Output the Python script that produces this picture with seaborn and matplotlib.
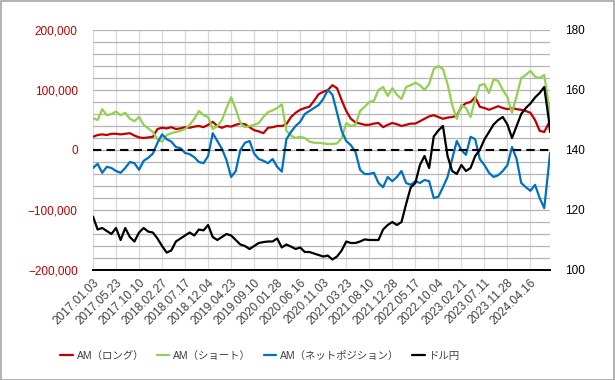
import matplotlib
matplotlib.use("Agg")
import matplotlib.pyplot as plt
import matplotlib.ticker as mticker
from matplotlib.patches import Rectangle
import numpy as np
import pandas as pd
import seaborn as sns

# weekly COT data sampled every 4 weeks, last point 2024.08.13
dates = list(pd.date_range("2017-01-03", "2024-08-06", freq="28D")) + [pd.Timestamp("2024-08-13")]

# asset manager positions, thousands of contracts
long_k = [22, 25, 26, 25, 27, 27, 26, 27, 28, 24,
          21, 20, 21, 22, 35, 37, 36, 38, 35, 36,
          38, 37, 39, 40, 38, 42, 47, 40, 37, 40,
          39, 42, 44, 43, 38, 33, 31, 28, 37, 38,
          40, 40, 43, 55, 62, 67, 70, 72, 82, 93,
          97, 100, 108, 103, 83, 65, 52, 46, 44, 42,
          42, 44, 45, 38, 42, 45, 43, 40, 42, 44,
          44, 48, 52, 56, 58, 55, 52, 54, 55, 57,
          72, 78, 80, 88, 72, 70, 67, 70, 73, 70,
          68, 70, 68, 67, 65, 62, 50, 32, 30, 45,
          47]
short_k = [53, 50, 68, 58, 60, 64, 58, 62, 52, 48,
           55, 42, 36, 30, 18, 14, 25, 28, 30, 32,
           35, 42, 52, 65, 58, 55, 35, 40, 50, 70,
           88, 68, 45, 38, 40, 42, 45, 55, 63, 66,
           70, 76, 32, 24, 20, 22, 20, 14, 12, 12,
           11, 10, 10, 11, 20, 45, 40, 42, 65, 72,
           80, 82, 100, 105, 90, 103, 92, 85, 105, 108,
           112, 108, 100, 110, 135, 140, 135, 110, 75, 52,
           75, 70, 55, 85, 108, 110, 95, 118, 115, 100,
           88, 62, 90, 120, 125, 132, 122, 120, 125, 75,
           55]
net_k = [-30, -23, -38, -28, -30, -35, -38, -30, -20, -22,
         -33, -18, -13, -6, 12, 26, 18, 14, 5, 3,
         -5, -7, -12, -20, -22, -10, 28, 15, 2, -17,
         -45, -35, 0, 12, 15, -6, -15, -18, -22, -15,
         -28, -36, 18, 30, 40, 47, 60, 65, 70, 75,
         85, 100, 92, 62, 32, 15, 8, -3, -33, -40,
         -40, -38, -55, -62, -45, -52, -45, -35, -55, -58,
         -52, -55, -50, -52, -80, -78, -62, -45, -15, 15,
         0, -8, 22, 18, -15, -25, -38, -45, -42, -35,
         -25, 5, -15, -55, -62, -68, -58, -80, -97, -25,
         -5]
usdjpy = [117.8, 113.5, 114, 113, 112, 114, 110, 114, 111, 109.5,
          112.5, 114, 112.8, 112.5, 110.5, 108, 105.8, 106.5, 109.5, 110.5,
          111.5, 112.5, 111.5, 113.5, 113.2, 115, 111, 110, 111, 112,
          111.5, 110, 108.5, 108, 107, 108, 109, 109.3, 109.5, 109.5,
          110.5, 107.5, 108.5, 107.8, 107, 107.5, 106, 106, 105.5, 105,
          104.5, 104.8, 103.5, 104.5, 106.5, 109.5, 109, 109, 109.5, 110.2,
          110, 110, 110, 113.5, 115, 116, 115, 116, 122, 127.5,
          129, 135, 138, 134, 144.5, 146.5, 148, 138, 133, 132,
          135, 133, 134, 138, 140, 143.5, 146, 148.5, 150, 151,
          148.5, 144, 148, 152, 154, 155.5, 157.5, 159, 161, 150,
          146]

tick_dates = pd.date_range("2017-01-03", periods=20, freq="140D")
tick_labels = [d.strftime("%Y.%m.%d") for d in tick_dates]

labels = ["AM（ロング）", "AM（ショート）", "AM（ネットポジション）", "ドル円"]
colors = ["#C00000", "#92D050", "#0070C0", "#000000"]

df = pd.DataFrame({"date": dates,
                   "long": np.array(long_k) * 1000,
                   "short": np.array(short_k) * 1000,
                   "net": np.array(net_k) * 1000,
                   "usdjpy": usdjpy})

sns.set_style("white")
plt.rcParams["font.family"] = ["Liberation Sans", "Noto Sans CJK JP", "DejaVu Sans"]

fig = plt.figure(figsize=(6.15, 3.8), dpi=100)
ax = fig.add_axes([93 / 615, 1 - 270 / 380, 457 / 615, 240 / 380])
ax2 = ax.twinx()

for col, lab, c in zip(["long", "short", "net"], labels[:3], colors[:3]):
    sns.lineplot(data=df, x="date", y=col, ax=ax, color=c, lw=1.6, label=lab, legend=False)
sns.lineplot(data=df, x="date", y="usdjpy", ax=ax2, color=colors[3], lw=1.6, label=labels[3], legend=False)

ax.axhline(0, color="black", lw=1.5, ls=(0, (4, 2.5)), zorder=5)

ax.set_xlim(dates[0], dates[-1])
ax.set_ylim(-200000, 200000)
ax2.set_ylim(100, 180)
ax.yaxis.set_major_locator(mticker.MultipleLocator(100000))
ax.yaxis.set_minor_locator(mticker.MultipleLocator(20000))
ax.yaxis.set_major_formatter(mticker.StrMethodFormatter("{x:,.0f}"))
ax2.yaxis.set_major_locator(mticker.MultipleLocator(20))

ax.set_xticks(tick_dates)
ax.set_xticklabels(tick_labels, rotation=45, ha="right", rotation_mode="anchor", fontsize=8.5, color="#404040")
ax.tick_params(axis="x", length=0, pad=5)
ax.tick_params(axis="y", which="both", length=0, labelsize=8.5, labelcolor="#C00000", pad=11)
ax2.tick_params(axis="y", length=0, labelsize=8.5, labelcolor="#000000", pad=11)

ax.grid(axis="y", which="both", color="#B4B4B4", lw=0.9)
ax.grid(axis="x", which="major", color="#D9D9D9", lw=0.9)
ax.set_axisbelow(True)
ax.set_xlabel("")
ax.set_ylabel("")
ax2.set_ylabel("")

for a in (ax, ax2):
    for s in ("left", "right", "top"):
        a.spines[s].set_visible(False)
    a.spines["bottom"].set_color("black")
    a.spines["bottom"].set_linewidth(1.4)

h1, l1 = ax.get_legend_handles_labels()
h2, l2 = ax2.get_legend_handles_labels()
fig.legend(h1 + h2, l1 + l2, loc="center left", bbox_to_anchor=(60 / 615, 1 - 356 / 380), ncol=4,
           frameon=False, fontsize=7.5, handlelength=1.2, handletextpad=0.4, columnspacing=1.2,
           borderpad=0, borderaxespad=0, labelcolor="#404040")

fig.patches.append(Rectangle((0.001, 0.001), 0.998, 0.997, transform=fig.transFigure,
                             fill=False, edgecolor="#A6A6A6", lw=1.2))

fig.savefig("out.png", dpi=100)
